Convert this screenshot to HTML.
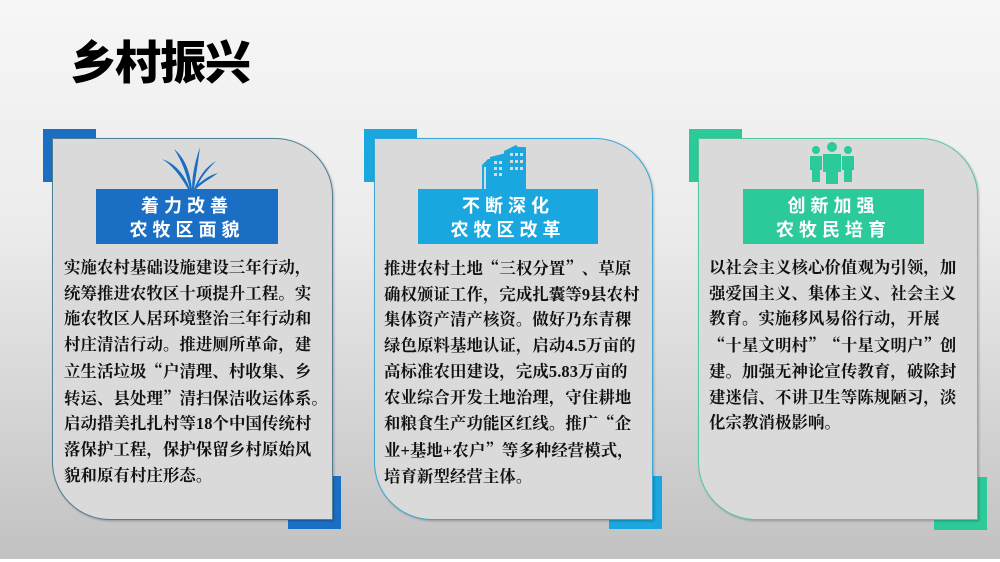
<!DOCTYPE html>
<html><head><meta charset="utf-8"><style>
*{margin:0;padding:0;box-sizing:border-box}
body{width:1000px;height:562px;position:relative;overflow:hidden;background:linear-gradient(#f6f6f6 0%,#ececec 40%,#c2c2c2 99%);font-family:"Liberation Serif","Noto Serif CJK SC",serif}
.strip{position:absolute;left:0;top:559px;width:1000px;height:3px;background:#fff}
.title{position:absolute;left:70px;top:32px;font:900 46px/56px "Noto Sans CJK SC",sans-serif;letter-spacing:-1px;color:#000}
.acc{position:absolute;width:53px;height:53px}
.card{position:absolute;top:138px;height:382px;background:#dadada;border:1.5px solid;border-radius:0 58px 0 58px;box-shadow:1px 1px 2px rgba(0,0,0,.25)}
.lab{position:absolute;top:189px;height:55px;color:#fff;font:700 18px/24px "Noto Sans CJK SC",sans-serif;letter-spacing:5px;text-align:center;padding-top:4px}
.txt{position:absolute;top:255px;font-weight:700;font-size:16.4px;line-height:25.7px;color:#111;letter-spacing:0.1px;white-space:nowrap}
.q{font-family:"Noto Serif CJK SC",serif}
svg{position:absolute}
</style></head><body>
<div class="strip"></div>
<div class="title">乡村振兴</div>

<div class="acc" style="left:43px;top:129px;background:#1a6fc4"></div>
<div class="acc" style="left:288px;top:476px;background:#1a6fc4"></div>
<div class="card" style="left:52px;width:281px;border-color:#4f7f90"></div>
<svg style="left:160px;top:145px" width="60" height="45" viewBox="0 0 60 45"><g fill="#1a6fc4"><path d="M28 44 C20 30 12 20 2 14 C14 18 24 28 30 44Z"/><path d="M30 44 C26 28 22 16 14 4 C26 14 30 28 32 44Z"/><path d="M32 44 C32 28 36 14 40 2 C38 18 36 30 34 44Z"/><path d="M34 44 C40 30 46 22 56 16 C46 26 40 34 36 44Z"/><path d="M35 42 C44 34 50 30 58 28 C50 34 42 38 36 44Z"/></g></svg>
<div class="lab" style="left:96px;width:182px;background:#1a6fc4">着力改善<br>农牧区面貌</div>
<div class="txt" style="left:64px">实施农村基础设施建设三年行动，<br>统筹推进农牧区十项提升工程。实<br>施农牧区人居环境整治三年行动和<br>村庄清洁行动。推进厕所革命，建<br>立生活垃圾<span class="q">“</span>户清理、村收集、乡<br>转运、县处理<span class="q">”</span>清扫保洁收运体系。<br>启动措美扎扎村等18个中国传统村<br>落保护工程，保护保留乡村原始风<br>貌和原有村庄形态。</div>

<div class="acc" style="left:364px;top:129px;background:#1aa6de"></div>
<div class="acc" style="left:609px;top:476px;background:#1aa6de"></div>
<div class="card" style="left:374px;width:279px;border-color:#3aa7d6"></div>
<svg style="left:480px;top:143px" width="60" height="46" viewBox="0 0 60 46"><g fill="#1aa6de"><path d="M2 46 V22 L8 16 H10 V14 L26 10 V46Z"/><path d="M24 46 V8 L36 2 L38 4 H46 V46Z"/></g><g fill="#dadada"><rect x="14" y="18" width="3" height="3"/><rect x="19" y="18" width="3" height="3"/><rect x="14" y="24" width="3" height="3"/><rect x="19" y="24" width="3" height="3"/><rect x="14" y="30" width="3" height="3"/><rect x="19" y="30" width="3" height="3"/><rect x="30" y="10" width="3" height="3"/><rect x="35" y="10" width="3" height="3"/><rect x="40" y="10" width="3" height="3"/><rect x="30" y="17" width="3" height="3"/><rect x="35" y="17" width="3" height="3"/><rect x="40" y="17" width="3" height="3"/><rect x="30" y="24" width="3" height="3"/><rect x="35" y="24" width="3" height="3"/><rect x="40" y="24" width="3" height="3"/><rect x="4" y="24" width="2" height="22"/></g></svg>
<div class="lab" style="left:418px;width:180px;background:#1aa6de">不断深化<br>农牧区改革</div>
<div class="txt" style="left:384px">推进农村土地<span class="q">“</span>三权分置<span class="q">”</span>、草原<br>确权颁证工作，完成扎囊等9县农村<br>集体资产清产核资。做好乃东青稞<br>绿色原料基地认证，启动4.5万亩的<br>高标准农田建设，完成5.83万亩的<br>农业综合开发土地治理，守住耕地<br>和粮食生产功能区红线。推广<span class="q">“</span>企<br>业+基地+农户<span class="q">”</span>等多种经营模式，<br>培育新型经营主体。</div>

<div class="acc" style="left:689px;top:129px;background:#2cc99a"></div>
<div class="acc" style="left:934px;top:477px;background:#2cc99a"></div>
<div class="card" style="left:698px;width:280px;border-color:#54c9a0"></div>
<svg style="left:808px;top:142px" width="48" height="42" viewBox="0 0 48 42"><g fill="#2cc99a"><circle cx="8" cy="8" r="4"/><path d="M2 14 H14 V28 H12 V40 H4 V28 H2Z"/><circle cx="40" cy="8" r="4"/><path d="M34 14 H46 V28 H44 V40 H36 V28 H34Z"/><circle cx="24" cy="5" r="5"/><path d="M15 12 H33 V30 H30 V42 H18 V30 H15Z"/></g></svg>
<div class="lab" style="left:743px;width:181px;background:#2cc99a">创新加强<br>农牧民培育</div>
<div class="txt" style="left:709px">以社会主义核心价值观为引领，加<br>强爱国主义、集体主义、社会主义<br>教育。实施移风易俗行动，开展<br><span class="q">“</span>十星文明村<span class="q">”“</span>十星文明户<span class="q">”</span>创<br>建。加强无神论宣传教育，破除封<br>建迷信、不讲卫生等陈规陋习，淡<br>化宗教消极影响。</div>
</body></html>
